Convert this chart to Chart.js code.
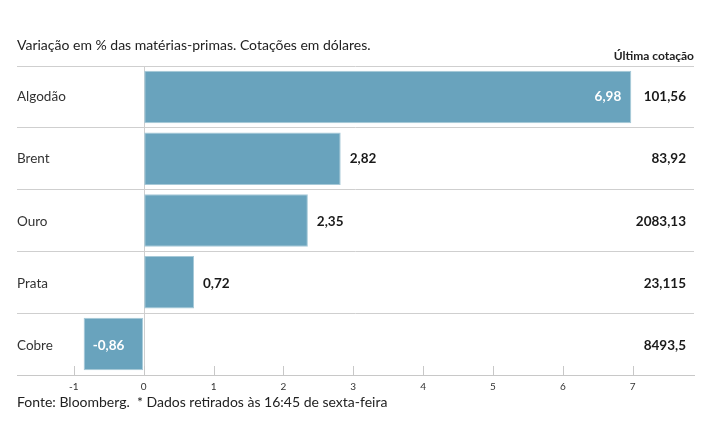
<!DOCTYPE html>
<html><head><meta charset="utf-8">
<script src="https://cdn.jsdelivr.net/npm/chart.js@4"></script>
<style>html,body{margin:0;padding:0;background:#fff}#wrap{width:715px;height:445px;position:relative}</style>
</head><body><div id="wrap"><canvas id="c" width="715" height="445"></canvas></div>
<script>
const categories = ['Algodão', 'Brent', 'Ouro', 'Prata', 'Cobre'];
const variation = [6.98, 2.82, 2.35, 0.72, -0.86];
const lastQuote = ['101,56', '83,92', '2083,13', '23,115', '8493,5'];
const tickValues = [-1, 0, 1, 2, 3, 4, 5, 6, 7];
const titleText = 'Variação em % das matérias-primas. Cotações em dólares.';
const headerText = 'Última cotação';
const footerText = 'Fonte: Bloomberg.  * Dados retirados às 16:45 de sexta-feira';

const FONT = 'Lato, "Open Sans", sans-serif';
const fmt = v => v.toFixed(2).replace('.', ',');

const decor = {
  id: 'decor',
  beforeDatasetsDraw(chart) {
    const {ctx, chartArea: a, scales: {x}} = chart;
    ctx.save();
    ctx.strokeStyle = '#cfcfcf';
    ctx.lineWidth = 1;
    const z = Math.round(x.getPixelForValue(0)) + 0.5;
    ctx.beginPath(); ctx.moveTo(z, a.top); ctx.lineTo(z, a.bottom); ctx.stroke();
    ctx.restore();
  },
  afterDraw(chart) {
    const {ctx, chartArea: a, scales: {x, y}} = chart;
    ctx.save();
    // tick marks upward
    ctx.strokeStyle = '#c8c8c8';
    ctx.lineWidth = 1;
    tickValues.forEach(t => {
      const px = Math.round(x.getPixelForValue(t)) + 0.5;
      ctx.beginPath(); ctx.moveTo(px, a.bottom - 9); ctx.lineTo(px, a.bottom); ctx.stroke();
    });
    // title
    ctx.fillStyle = '#222';
    ctx.textBaseline = 'middle';
    ctx.textAlign = 'left';
    ctx.font = '14px ' + FONT;
    ctx.fillText(titleText, 17, 45);
    ctx.font = 'bold 12px ' + FONT;
    ctx.textAlign = 'right';
    ctx.fillText(headerText, 694, 56);
    // footer
    ctx.textAlign = 'left';
    ctx.font = '14px ' + FONT;
    ctx.fillText(footerText, 17, 402);
    // rows
    const meta = chart.getDatasetMeta(0);
    categories.forEach((cat, i) => {
      const cy = y.getPixelForValue(i) + (i * 0.4);
      ctx.fillStyle = '#333';
      ctx.textAlign = 'left';
      ctx.font = '13.5px ' + FONT;
      ctx.fillText(cat, 17, cy);
      ctx.fillStyle = '#1a1a1a';
      ctx.font = 'bold 13.5px ' + FONT;
      ctx.textAlign = 'right';
      ctx.fillText(lastQuote[i], 686, cy);
      const v = variation[i];
      const bar = meta.data[i];
      const end = bar.x;
      const label = fmt(v);
      const w = ctx.measureText(label).width;
      if (v < 0) {
        ctx.fillStyle = '#fff'; ctx.textAlign = 'left';
        ctx.fillText(label, end + 9, cy);
      } else if (end + 9 + w > 600) {
        ctx.fillStyle = '#fff'; ctx.textAlign = 'right';
        ctx.fillText(label, end - 10, cy);
      } else {
        ctx.fillStyle = '#1a1a1a'; ctx.textAlign = 'left';
        ctx.fillText(label, end + 9, cy);
      }
    });
    ctx.restore();
  }
};

new Chart(document.getElementById('c'), {
  type: 'bar',
  data: {
    labels: categories,
    datasets: [{
      data: variation,
      backgroundColor: '#69a3bd',
      borderColor: '#a6c9d8',
      borderWidth: 1,
      borderSkipped: false,
      categoryPercentage: 1,
      barPercentage: 0.85
    }]
  },
  plugins: [decor],
  options: {
    indexAxis: 'y',
    responsive: false,
    animation: false,
    events: [],
    layout: { padding: { left: 17, right: 21, top: 66, bottom: 45 } },
    plugins: { legend: { display: false }, tooltip: { enabled: false }, title: { display: false } },
    scales: {
      x: {
        type: 'linear',
        min: -1.814,
        max: 7.878,
        afterBuildTicks: s => { s.ticks = tickValues.map(v => ({ value: v })); },
        afterFit: s => { s.height = 25; },
        grid: { drawOnChartArea: false, drawTicks: false },
        border: { display: true, color: '#c8c8c8', width: 1 },
        ticks: { padding: 6, color: '#333', font: { family: FONT, size: 10 }, callback: v => String(v) }
      },
      y: {
        type: 'category',
        afterFit: s => { s.width = 0; },
        grid: { offset: true, drawTicks: false, color: '#cfcfcf', lineWidth: 1 },
        border: { display: false },
        ticks: { display: false }
      }
    }
  }
});
</script></body></html>
